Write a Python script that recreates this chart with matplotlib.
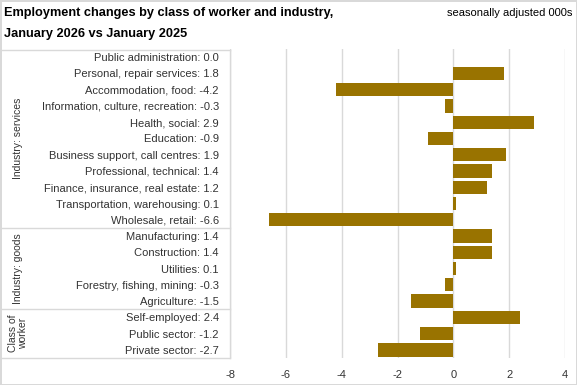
import matplotlib
matplotlib.use("Agg")
import matplotlib.pyplot as plt
from matplotlib.lines import Line2D
from matplotlib import font_manager

# data, top to bottom as in the chart
categories = [
    "Public administration", "Personal, repair services", "Accommodation, food",
    "Information, culture, recreation", "Health, social", "Education",
    "Business support, call centres", "Professional, technical",
    "Finance, insurance, real estate", "Transportation, warehousing",
    "Wholesale, retail",
    "Manufacturing", "Construction", "Utilities", "Forestry, fishing, mining",
    "Agriculture",
    "Self-employed", "Public sector", "Private sector",
]
values = [0.0, 1.8, -4.2, -0.3, 2.9, -0.9, 1.9, 1.4, 1.2, 0.1, -6.6,
          1.4, 1.4, 0.1, -0.3, -1.5,
          2.4, -1.2, -2.7]
groups = ["Industry: services", "Industry: goods", "Class of\nworker"]
group_sizes = [11, 5, 3]
x_ticks = [-8, -6, -4, -2, 0, 2, 4]

names = {f.name for f in font_manager.fontManager.ttflist}
family = "Liberation Sans Narrow" if "Liberation Sans Narrow" in names else "Liberation Sans"
plt.rcParams["font.family"] = [family, "DejaVu Sans"]

W, H = 577, 385
fig = plt.figure(figsize=(W / 100, H / 100), dpi=100)
fig.patch.set_edgecolor("#d9d9d9")
fig.patch.set_linewidth(1.0)

# axes: left -8 at x=230, right 4 at x=565, top y=49, bottom y=358
left, right, top, bottom = 230, 565, 49, 358
ax = fig.add_axes([left / W, 1 - bottom / H, (right - left) / W, (bottom - top) / H])

n = len(categories)
ypos = list(range(n))
ax.barh(ypos, values, height=0.82, color="#997300", zorder=3)
ax.set_ylim(n - 0.5, -0.5)
ax.set_xlim(-8, 4)
ax.set_xticks(x_ticks)
ax.set_xticklabels([str(t) for t in x_ticks], fontsize=8, color="#333333")
ax.tick_params(axis="x", length=0, pad=9)
ax.set_yticks(ypos)
ax.set_yticklabels([f"{c}: {v:.1f}" for c, v in zip(categories, values)],
                   fontsize=8, color="#333333")
ax.tick_params(axis="y", length=0, pad=8)
ax.grid(axis="x", color="#d9d9d9", linewidth=1, zorder=0)
for s in ax.spines.values():
    s.set_visible(False)

# category table lines (figure pixel coords)
def hline(y, x0=0, x1=left):
    fig.add_artist(Line2D([x0 / W, x1 / W], [1 - y / H, 1 - y / H],
                          color="#d9d9d9", linewidth=1))

def vline(x, y0, y1):
    fig.add_artist(Line2D([x / W, x / W], [1 - y0 / H, 1 - y1 / H],
                          color="#d9d9d9", linewidth=1))

row_h = (bottom - top) / n
hline(top + 1)
start = 0
for g, size in zip(groups, group_sizes):
    y0 = top + start * row_h
    y1 = top + (start + size) * row_h
    hline(y1)
    fig.text(18 / W, 1 - (y0 + y1) / 2 / H, g, rotation=90, ha="center",
             va="center", fontsize=7.5, color="#333333", linespacing=1.1)
    start += size
vline(left, top + 1, bottom)

fig.text(4 / W, 1 - 13 / H, "Employment changes by class of worker and industry,",
         fontsize=9.2, fontweight="bold", va="center", ha="left", color="#000000")
fig.text(4 / W, 1 - 34 / H, "January 2026 vs January 2025",
         fontsize=9.2, fontweight="bold", va="center", ha="left", color="#000000")
fig.text(572 / W, 1 - 13 / H, "seasonally adjusted 000s", fontsize=8,
         va="center", ha="right", color="#000000")

fig.savefig("out.png", dpi=100)
